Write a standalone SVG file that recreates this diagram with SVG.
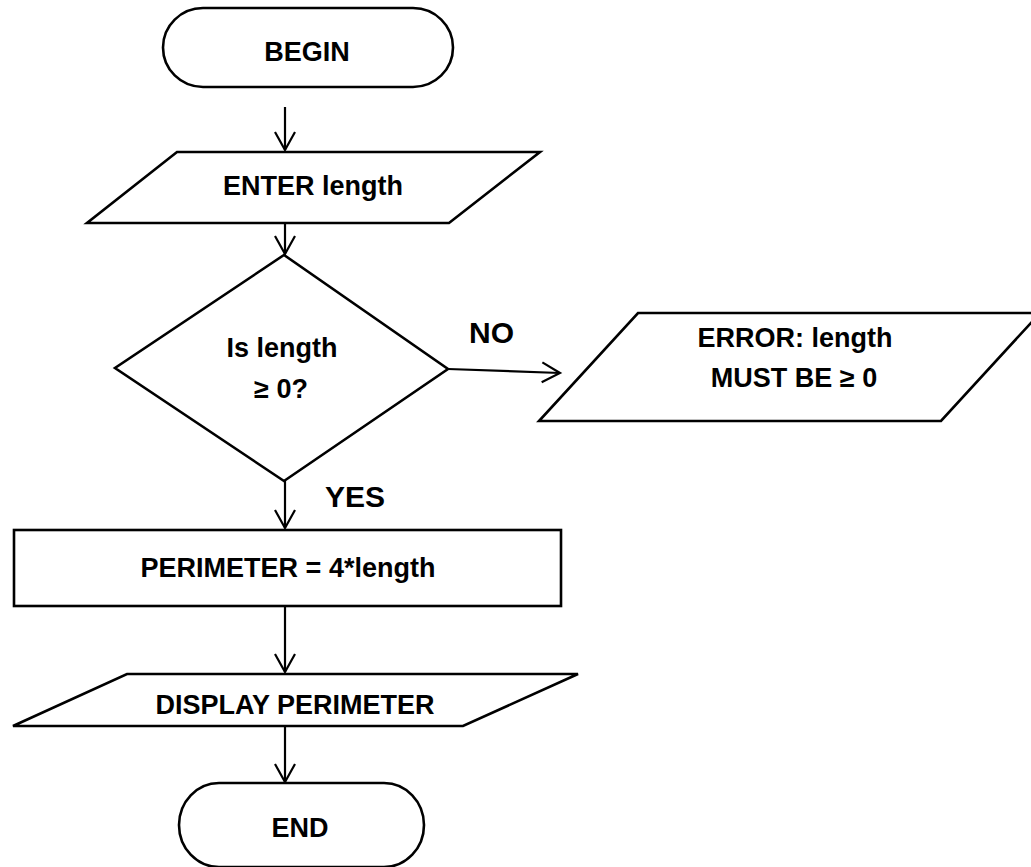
<svg xmlns="http://www.w3.org/2000/svg" width="1031" height="867" viewBox="0 0 1031 867">
<defs>
<marker id="arr" markerUnits="userSpaceOnUse" markerWidth="24" markerHeight="24" viewBox="-20 -12 24 24" refX="0" refY="0" orient="auto">
<path d="M-18,-10 L0,0 L-18,10" fill="none" stroke="#000" stroke-width="2.2" stroke-linejoin="miter"/>
</marker>
</defs>
<style>
.s{fill:#fff;stroke:#000;stroke-width:2.6;stroke-linejoin:miter}
.t{font-family:"Liberation Sans",Arial,sans-serif;font-weight:bold;font-size:27px;fill:#000;text-anchor:middle}
.l{font-family:"Liberation Sans",Arial,sans-serif;font-weight:bold;font-size:30px;fill:#000}
.c{fill:none;stroke:#000;stroke-width:2.2}
</style>
<rect width="1031" height="867" fill="#fff"/>
<g id="connectors">
<line class="c" x1="285" y1="107" x2="285" y2="150" marker-end="url(#arr)"/>
<line class="c" x1="285" y1="223" x2="285" y2="254" marker-end="url(#arr)"/>
<line class="c" x1="448" y1="369" x2="560" y2="373" marker-end="url(#arr)"/>
<line class="c" x1="285" y1="481" x2="285" y2="528" marker-end="url(#arr)"/>
<line class="c" x1="285" y1="606" x2="285" y2="672" marker-end="url(#arr)"/>
<line class="c" x1="285" y1="726" x2="285" y2="782" marker-end="url(#arr)"/>
</g>
<g id="begin">
<rect class="s" x="163" y="8" width="290" height="79" rx="40" ry="40"/>
<text class="t" x="307" y="61">BEGIN</text>
</g>
<g id="enter">
<polygon class="s" points="177,152 540,152 449,223 87,223"/>
<text class="t" x="313" y="195">ENTER length</text>
</g>
<g id="decision">
<polygon class="s" points="284,255 448,369 284,481 115,368"/>
<text class="t" x="282" y="357">Is length</text>
<text class="t" x="281" y="398">≥ 0?</text>
</g>
<g id="label-no">
<text class="l" x="469" y="343">NO</text>
</g>
<g id="label-yes">
<text class="l" x="325" y="507">YES</text>
</g>
<g id="error">
<polygon class="s" points="638,313 1040,313 941,421 539,421"/>
<text class="t" x="795" y="347">ERROR: length</text>
<text class="t" x="794" y="387">MUST BE ≥ 0</text>
</g>
<g id="perimeter">
<rect class="s" x="14" y="530" width="547" height="76"/>
<text class="t" x="288" y="577">PERIMETER = 4*length</text>
</g>
<g id="display">
<polygon class="s" points="127,674 578,674 463,726 13,726"/>
<text class="t" x="295" y="714">DISPLAY PERIMETER</text>
</g>
<g id="end">
<rect class="s" x="179" y="783" width="245" height="84" rx="40" ry="42"/>
<text class="t" x="300" y="837">END</text>
</g>
</svg>
